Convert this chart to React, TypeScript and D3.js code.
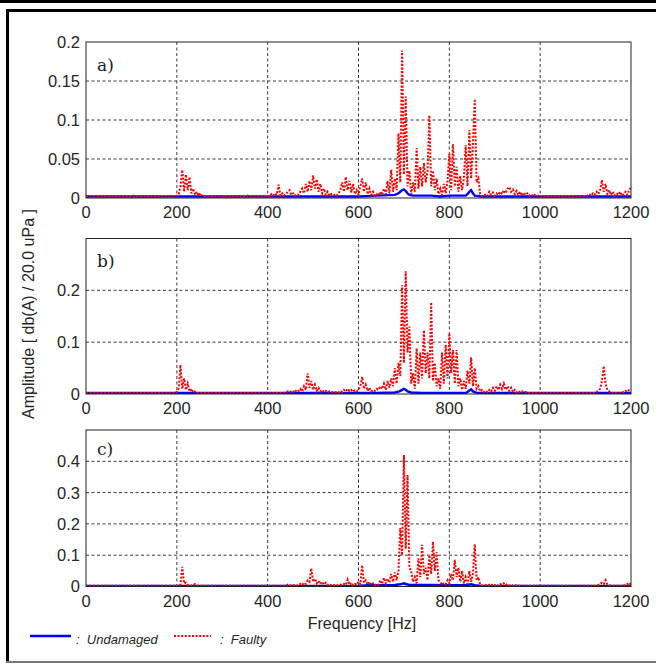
import React from 'react';
import * as d3 from 'd3';

// ---------- DATA (frequency in Hz, amplitude in units of 1e-3) ----------
const xTicks = [0, 200, 400, 600, 800, 1000, 1200];
const yTicksA = [0, 0.05, 0.1, 0.15, 0.2];
const yTicksB = [0, 0.1, 0.2];
const yTicksC = [0, 0.1, 0.2, 0.3, 0.4];
const panelLabels = ['a)', 'b)', 'c)'];
const seriesNames = ['Undamaged', 'Faulty'];

type P = [number, number];

const faultyA: P[] = [
  [0,2],[100,2],[104,3],[108,2],[196,2],[200,3],[204,5],[208,15],[212,36],[216,8],[220,30],[224,10],[228,27],[232,6],[236,12],[240,4],[244,8],[248,3],[252,6],[256,2],[300,2],[304,3],[308,2],[352,2],[356,3],[360,2],[396,2],
  [400,3],[404,2],[408,5],[412,3],[416,6],[420,4],[424,17],[428,3],[432,6],[436,3],[440,5],[444,8],[448,10],[452,4],[456,6],[460,3],[464,5],[468,4],[472,8],[476,12],[480,6],[484,18],[488,8],[492,22],[496,10],[500,29],[504,12],[508,24],[512,8],[516,18],[520,6],[524,12],[528,4],[532,8],[536,3],[540,5],[544,3],[548,4],[552,3],[556,6],
  [560,10],[564,20],[568,8],[572,27],[576,10],[580,22],[584,7],[588,18],[592,5],[596,10],[600,4],[604,15],[608,25],[612,8],[616,20],[620,5],[624,12],[628,4],[632,8],[636,3],[640,5],[644,3],[648,8],[652,4],[656,12],[660,5],[664,22],[668,6],[672,36],[676,8],[680,25],[684,10],[688,83],[692,20],[696,189],[700,30],[704,130],[708,15],[712,35],[716,5],[720,20],[724,8],[728,64],[732,12],[736,40],[740,15],[744,45],[748,20],[752,35],[756,106],[760,15],[764,35],[768,10],[772,25],[776,5],[780,12],[784,4],[788,18],[792,6],[796,22],
  [800,57],[804,10],[808,69],[812,15],[816,40],[820,8],[824,28],[828,10],[832,25],[836,68],[840,15],[844,87],[848,25],[852,70],[856,127],[860,20],[864,25],[868,5],[872,3],[876,2],[880,5],[884,3],[888,8],[892,4],[896,7],[900,3],[904,6],[908,4],[912,8],[916,5],[920,10],[924,6],[928,12],[932,14],[936,8],[940,11],[944,5],[948,9],[952,4],[956,8],[960,3],[964,7],[968,4],[972,6],[976,3],[980,5],[984,2],[988,4],[992,2],[996,3],
  [1000,2],[1048,2],[1052,3],[1056,2],[1100,2],[1104,3],[1108,5],[1112,3],[1116,6],[1120,4],[1124,8],[1128,5],[1132,10],[1136,23],[1140,8],[1144,18],[1148,5],[1152,10],[1156,4],[1160,8],[1164,3],[1168,6],[1172,4],[1176,8],[1180,3],[1184,5],[1188,8],[1192,4],[1196,10],[1200,14],
];
const undamagedA: P[] = [
  [0,2],[600,2],[640,3],[680,4],[688,6],[692,8],[696,10],[700,11],[704,9],[708,6],[712,4],[720,3],[760,3],[780,2],[800,3],[836,3],[840,5],[844,8],[848,10],[852,6],[856,3],[870,2],[1200,2],
];

const faultyB: P[] = [
  [0,2],[196,2],[200,4],[204,10],[208,56],[212,10],[216,30],[220,8],[224,20],[228,5],[232,10],[236,3],[240,5],[244,2],[436,2],
  [440,3],[444,5],[448,3],[452,6],[456,4],[460,8],[464,4],[468,6],[472,10],[476,5],[480,15],[484,8],[488,40],[492,12],[496,25],[500,8],[504,18],[508,6],[512,12],[516,5],[520,8],[524,4],[528,6],[532,3],[536,5],[540,3],[544,4],[548,3],[552,5],[556,3],[560,6],[564,4],[568,8],[572,5],[576,10],[580,6],[584,8],[588,4],[592,7],[596,5],
  [600,8],[604,15],[608,33],[612,10],[616,18],[620,6],[624,12],[628,5],[632,8],[636,6],[640,10],[644,8],[648,15],[652,10],[656,20],[660,8],[664,25],[668,12],[672,30],[676,15],[680,50],[684,20],[688,60],[692,35],[696,210],[700,60],[704,237],[708,80],[712,130],[716,20],[720,40],[724,10],[728,88],[732,20],[736,80],[740,30],[744,123],[748,40],[752,80],[756,30],[760,177],[764,25],[768,60],[772,15],[776,30],[780,10],[784,80],[788,20],[792,95],[796,30],
  [800,117],[804,40],[808,85],[812,20],[816,85],[820,15],[824,30],[828,8],[832,25],[836,10],[840,45],[844,20],[848,71],[852,15],[856,50],[860,10],[864,15],[868,5],[872,8],[876,4],[880,6],[884,3],[888,8],[892,5],[896,12],[900,6],[904,15],[908,8],[912,18],[916,10],[920,20],[924,8],[928,15],[932,6],[936,12],[940,4],[944,8],[948,3],[952,6],[956,3],[960,5],[964,3],[968,4],[972,2],
  [1120,2],[1124,4],[1128,6],[1132,10],[1136,25],[1140,54],[1144,20],[1148,8],[1152,5],[1156,3],[1160,2],[1176,2],[1180,4],[1184,3],[1188,6],[1192,4],[1196,8],[1200,10],
];
const undamagedB: P[] = [
  [0,2],[640,2],[680,3],[690,5],[696,8],[700,10],[704,8],[708,5],[716,3],[740,2],[836,2],[840,4],[844,7],[848,9],[852,5],[860,2],[1200,2],
];

const faultyC: P[] = [
  [0,2],[200,2],[204,3],[208,6],[212,63],[216,10],[220,12],[224,5],[228,6],[232,3],[236,4],[240,8],[244,3],[248,2],[436,2],
  [440,3],[444,6],[448,3],[452,4],[456,3],[460,6],[464,3],[468,5],[472,8],[476,4],[480,12],[484,8],[488,20],[492,15],[496,58],[500,15],[504,25],[508,10],[512,18],[516,8],[520,15],[524,6],[528,12],[532,5],[536,8],[540,3],[544,5],[548,3],[552,4],[556,3],[560,6],[564,4],[568,8],[572,5],[576,22],[580,6],[584,12],[588,4],[592,8],[596,5],
  [600,15],[604,8],[608,68],[612,12],[616,20],[620,6],[624,15],[628,5],[632,10],[636,4],[640,8],[644,5],[648,20],[652,8],[656,28],[660,10],[664,25],[668,12],[672,40],[676,15],[680,45],[684,20],[688,50],[692,187],[696,100],[700,420],[704,120],[708,356],[712,60],[716,50],[720,15],[724,30],[728,10],[732,90],[736,30],[740,133],[744,40],[748,60],[752,20],[756,100],[760,40],[764,143],[768,50],[772,110],[776,20],[780,15],[784,5],[788,12],[792,8],[796,20],
  [800,10],[804,40],[808,20],[812,85],[816,30],[820,60],[824,15],[828,50],[832,10],[836,30],[840,8],[844,50],[848,15],[852,40],[856,135],[860,20],[864,30],[868,6],[872,4],[876,3],[880,5],[884,3],[888,6],[892,3],[896,8],[900,4],[904,6],[908,3],[912,8],[916,5],[920,10],[924,4],[928,8],[932,3],[936,6],[940,3],[944,5],[948,3],[952,4],[956,2],
  [1120,2],[1124,3],[1128,5],[1132,8],[1136,12],[1140,8],[1144,20],[1148,6],[1152,4],[1156,3],[1160,2],[1180,2],[1184,3],[1188,5],[1192,8],[1196,4],[1200,12],
];
const undamagedC: P[] = [
  [0,2],[600,2],[620,4],[660,4],[680,5],[692,7],[700,10],[704,8],[712,5],[760,5],[800,4],[840,5],[848,7],[856,4],[870,2],[1200,2],
];

// ---------- LAYOUT ----------
const W = 656;
const H = 664;
const LEFT = 86;
const RIGHT = 631;
const RED = '#ff0000';
const BLUE = '#0000ff';
const SANS = '"Liberation Sans", Arial, Helvetica, sans-serif';

const panels = [
  { top: 42, bottom: 198, yMax: 0.2, ticks: yTicksA, label: panelLabels[0], labelY: 71, faulty: faultyA, undamaged: undamagedA },
  { top: 238.5, bottom: 394, yMax: 0.3, ticks: yTicksB, label: panelLabels[1], labelY: 267, faulty: faultyB, undamaged: undamagedB },
  { top: 430, bottom: 586.5, yMax: 0.5, ticks: yTicksC, label: panelLabels[2], labelY: 455, faulty: faultyC, undamaged: undamagedC },
];

const x = d3.scaleLinear().domain([0, 1200]).range([LEFT, RIGHT]);

function Panel({ p, idx }: { p: typeof panels[number]; idx: number }) {
  const y = d3.scaleLinear().domain([0, p.yMax]).range([p.bottom, p.top]);
  const line = d3
    .line<P>()
    .x((d) => x(d[0]))
    .y((d) => y(d[1] / 1000));
  const clipId = `clip${idx}`;
  return (
    <g>
      <defs>
        <clipPath id={clipId}>
          <rect x={LEFT} y={p.top} width={RIGHT - LEFT} height={p.bottom - p.top} />
        </clipPath>
      </defs>
      <rect x={LEFT} y={p.top} width={RIGHT - LEFT} height={p.bottom - p.top} fill="#fff" />
      {xTicks.slice(1, -1).map((t) => (
        <line key={'gx' + t} x1={x(t)} x2={x(t)} y1={p.top} y2={p.bottom} stroke="#3a3a3a" strokeWidth={1} strokeDasharray="3,2.5" />
      ))}
      {p.ticks.filter((t) => t > 0 && t < p.yMax - 1e-9).map((t) => (
        <line key={'gy' + t} x1={LEFT} x2={RIGHT} y1={y(t)} y2={y(t)} stroke="#3a3a3a" strokeWidth={1} strokeDasharray="3,2.5" />
      ))}
      <g clipPath={`url(#${clipId})`}>
        <path d={line(p.undamaged) || ''} fill="none" stroke={BLUE} strokeWidth={2.4} />
        <path d={line(p.faulty) || ''} fill="none" stroke={RED} strokeWidth={2} strokeDasharray="2,1.6" />
      </g>
      <rect x={LEFT} y={p.top} width={RIGHT - LEFT} height={p.bottom - p.top} fill="none" stroke="#222" strokeWidth={1} />
      {p.ticks.map((t) => (
        <text key={'ty' + t} x={LEFT - 6} y={y(t)} dy="0.36em" textAnchor="end" fontFamily={SANS} fontSize={16.5} fill="#262626">
          {String(t)}
        </text>
      ))}
      {xTicks.map((t) => (
        <text key={'tx' + t} x={x(t)} y={p.bottom + 20} textAnchor="middle" fontFamily={SANS} fontSize={16.5} fill="#262626">
          {String(t)}
        </text>
      ))}
      <text x={97} y={p.labelY} fontFamily='"DejaVu Serif", serif' fontSize={17} fill="#222">
        {p.label}
      </text>
    </g>
  );
}

export default function App() {
  return (
    <svg width={W} height={H} viewBox={`0 0 ${W} ${H}`} style={{ position: 'absolute', left: 0, top: 0, background: '#fff' }}>
      <rect x={0} y={0} width={W} height={H} fill="#fff" />
      <rect x={0} y={0} width={W} height={3} fill="#000" />
      <line x1={6} x2={W} y1={10.5} y2={10.5} stroke="#000" strokeWidth={3} />
      <line x1={7.5} x2={7.5} y1={9} y2={663} stroke="#000" strokeWidth={3} />
      <line x1={6} x2={W} y1={662} y2={662} stroke="#777" strokeWidth={2} />

      {panels.map((p, i) => (
        <Panel key={i} p={p} idx={i} />
      ))}

      <text transform="translate(34,314) rotate(-90)" textAnchor="middle" fontFamily={SANS} fontSize={16} fill="#262626">
        Amplitude [ db(A) / 20.0 uPa ]
      </text>
      <text x={362} y={629} textAnchor="middle" fontFamily={SANS} fontSize={16} fill="#262626">
        Frequency [Hz]
      </text>

      <line x1={30} x2={71} y1={636} y2={636} stroke={BLUE} strokeWidth={2.4} />
      <text x={76} y={643.5} fontFamily={SANS} fontSize={13} fontStyle="italic" fill="#262626" xmlSpace="preserve">
        {':  ' + seriesNames[0]}
      </text>
      <line x1={174} x2={211} y1={636} y2={636} stroke={RED} strokeWidth={2} strokeDasharray="2,1.6" />
      <text x={220} y={643.5} fontFamily={SANS} fontSize={13} fontStyle="italic" fill="#262626" xmlSpace="preserve">
        {':  ' + seriesNames[1]}
      </text>
    </svg>
  );
}
